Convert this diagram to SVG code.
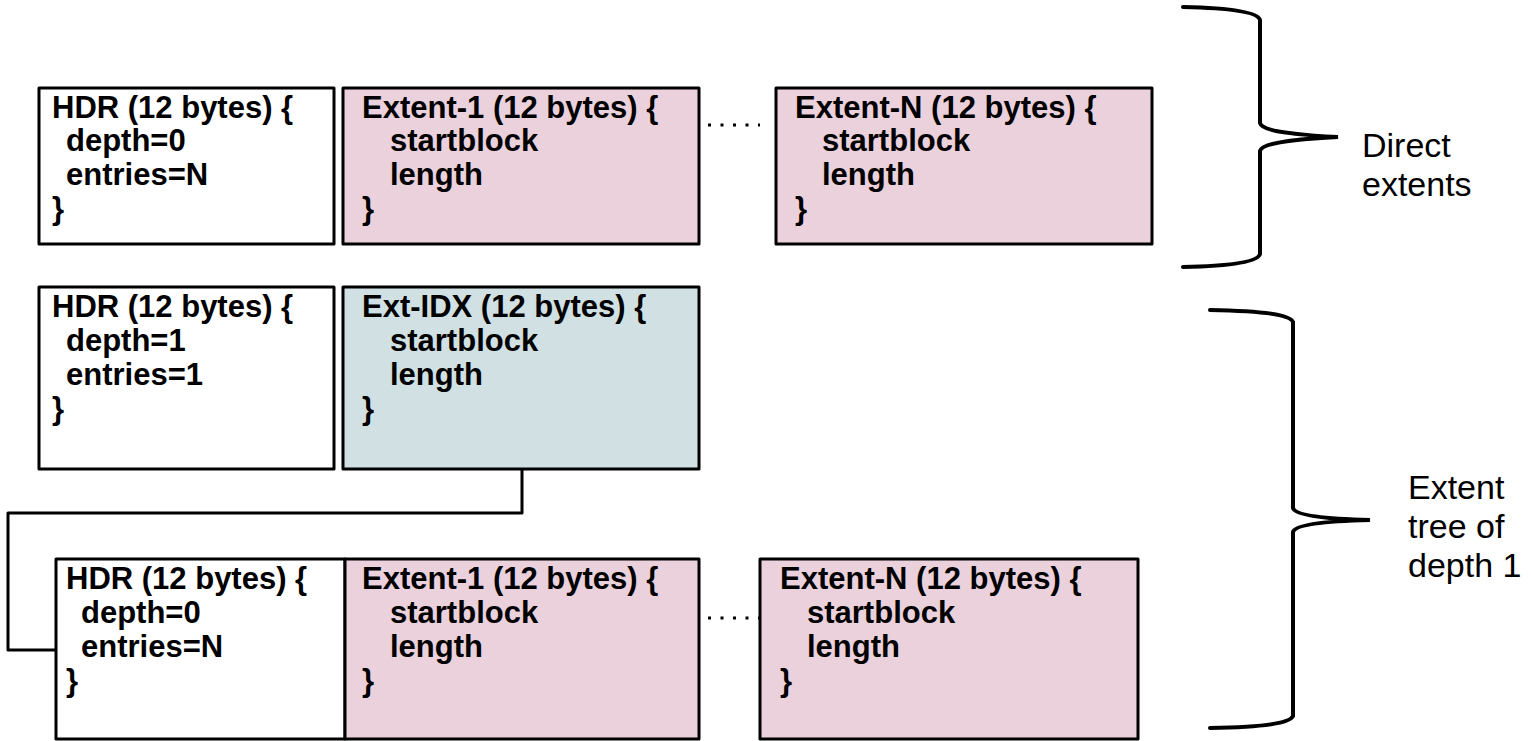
<svg xmlns="http://www.w3.org/2000/svg" width="1531" height="741" viewBox="0 0 1531 741">
  <style>
    .box { stroke: #000; stroke-width: 3; stroke-linejoin: round; }
    .hdr { fill: #ffffff; }
    .ext { fill: #ead1dc; }
    .idx { fill: #d0e0e3; }
    .t { font-family: "Liberation Sans", Arial, sans-serif; font-weight: bold; font-size: 31px; fill: #000; }
    .lbl { font-family: "Liberation Sans", Arial, sans-serif; font-size: 34px; fill: #000; }
    .wire { fill: none; stroke: #000; stroke-width: 3; stroke-linejoin: round; }
    .brace { fill: none; stroke: #000; stroke-width: 4; stroke-linecap: round; }
    .dots { fill: none; stroke: #000; stroke-width: 3; stroke-dasharray: 3 9.5; }
  </style>
  <rect width="1531" height="741" fill="#fff"/>

  <!-- Row 1: inline extents -->
  <g id="r1-hdr">
    <rect class="box hdr" x="39" y="88" width="295" height="156"/>
    <text class="t" x="52" y="118">HDR (12 bytes) {</text>
    <text class="t" x="66" y="151">depth=0</text>
    <text class="t" x="66" y="185">entries=N</text>
    <text class="t" x="52" y="219">}</text>
  </g>
  <g id="r1-ext1">
    <rect class="box ext" x="343" y="88" width="356" height="156"/>
    <text class="t" x="362" y="118">Extent-1 (12 bytes) {</text>
    <text class="t" x="390" y="151">startblock</text>
    <text class="t" x="390" y="185">length</text>
    <text class="t" x="362" y="219">}</text>
  </g>
  <g id="r1-extn">
    <rect class="box ext" x="776" y="88" width="376" height="156"/>
    <text class="t" x="795" y="118">Extent-N (12 bytes) {</text>
    <text class="t" x="822" y="151">startblock</text>
    <text class="t" x="822" y="185">length</text>
    <text class="t" x="795" y="219">}</text>
  </g>

  <!-- Row 2: index node -->
  <g id="r2-hdr">
    <rect class="box hdr" x="39" y="287" width="295" height="182"/>
    <text class="t" x="52" y="317">HDR (12 bytes) {</text>
    <text class="t" x="66" y="351">depth=1</text>
    <text class="t" x="66" y="385">entries=1</text>
    <text class="t" x="52" y="419">}</text>
  </g>
  <g id="r2-idx">
    <rect class="box idx" x="343" y="287" width="356" height="182"/>
    <text class="t" x="362" y="317">Ext-IDX (12 bytes) {</text>
    <text class="t" x="390" y="351">startblock</text>
    <text class="t" x="390" y="385">length</text>
    <text class="t" x="362" y="419">}</text>
  </g>

  <!-- Row 3: leaf block -->
  <g id="r3-hdr">
    <rect class="box hdr" x="56" y="559" width="289" height="180"/>
    <text class="t" x="66" y="589">HDR (12 bytes) {</text>
    <text class="t" x="81" y="623">depth=0</text>
    <text class="t" x="81" y="657">entries=N</text>
    <text class="t" x="66" y="691">}</text>
  </g>
  <g id="r3-ext1">
    <rect class="box ext" x="345" y="559" width="354" height="180"/>
    <text class="t" x="362" y="589">Extent-1 (12 bytes) {</text>
    <text class="t" x="390" y="623">startblock</text>
    <text class="t" x="390" y="657">length</text>
    <text class="t" x="362" y="691">}</text>
  </g>
  <g id="r3-extn">
    <rect class="box ext" x="760" y="559" width="378" height="180"/>
    <text class="t" x="780" y="589">Extent-N (12 bytes) {</text>
    <text class="t" x="807" y="623">startblock</text>
    <text class="t" x="807" y="657">length</text>
    <text class="t" x="780" y="691">}</text>
  </g>

  <!-- Connectors -->
  <g id="connectors">
    <path class="wire" d="M522 469 V513 H8 V650 H56"/>
    <path class="dots" d="M708 125 H760"/>
    <path class="dots" d="M708 618 H760"/>
  </g>

  <!-- Braces and labels -->
  <g id="brace-direct">
    <path class="brace" d="M1183 7 C1230 8 1258 12 1260 20 V123 C1262 132 1300 135 1338 137 C1300 139 1262 142 1260 151 V254 C1258 262 1230 266 1183 267"/>
    <text class="lbl" x="1362" y="157">Direct</text>
    <text class="lbl" x="1362" y="196">extents</text>
  </g>
  <g id="brace-tree">
    <path class="brace" d="M1210 310 C1265 311 1290 315 1293 322 V508 C1295 516 1330 519 1370 520 C1330 521 1295 524 1293 532 V716 C1290 723 1265 727 1210 728"/>
    <text class="lbl" x="1408" y="499">Extent</text>
    <text class="lbl" x="1408" y="538">tree of</text>
    <text class="lbl" x="1408" y="577">depth 1</text>
  </g>
</svg>
